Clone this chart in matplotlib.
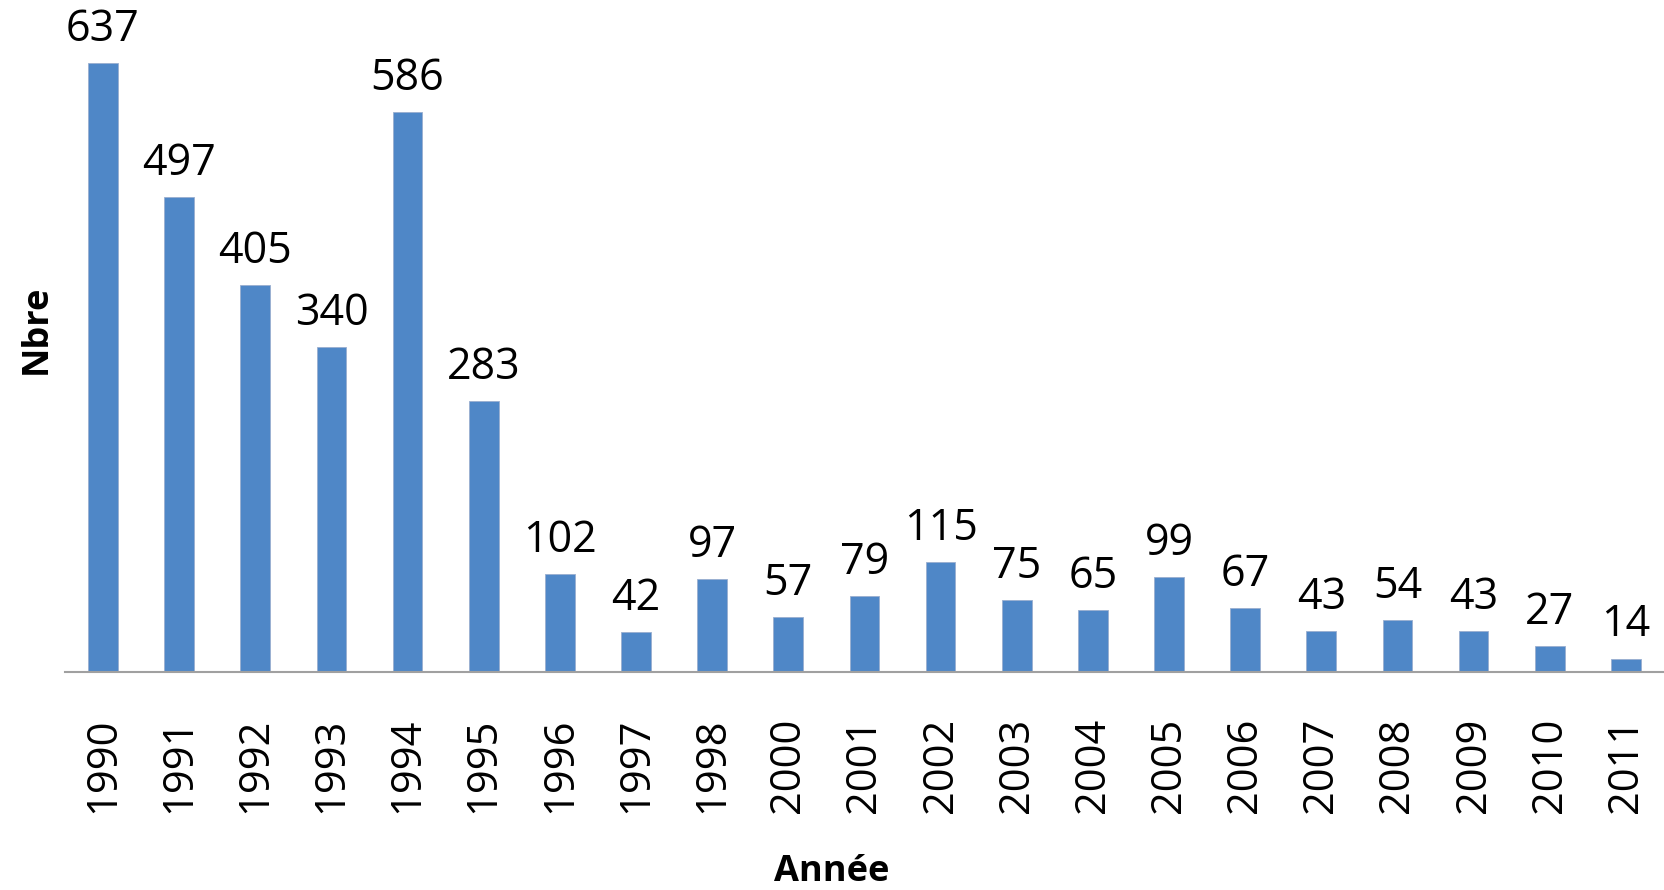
import matplotlib
matplotlib.use('Agg')
import matplotlib.pyplot as plt

plt.rcParams['font.family'] = ['Open Sans', 'DejaVu Sans']

annees = ['1990', '1991', '1992', '1993', '1994', '1995', '1996', '1997', '1998',
          '2000', '2001', '2002', '2003', '2004', '2005', '2006', '2007', '2008',
          '2009', '2010', '2011']
nbre = [637, 497, 405, 340, 586, 283, 102, 42, 97,
        57, 79, 115, 75, 65, 99, 67, 43, 54,
        43, 27, 14]

fig = plt.figure(figsize=(16.64, 8.90), dpi=100)
ax = fig.add_axes([0.039, 0.245, 0.961, 0.755])

x = range(len(annees))
bars = ax.bar(x, nbre, width=0.39, color='#4F87C7', edgecolor='#9aaed0', linewidth=0.6)
ax.bar_label(bars, labels=[str(v) for v in nbre], padding=8, fontsize=31)

ax.set_xlim(-0.5, len(annees) - 0.5)
ax.set_ylim(0, 703)
ax.set_xticks(list(x))
ax.set_xticklabels(annees, rotation=90, fontsize=30)
ax.tick_params(axis='x', length=0, pad=33)
ax.set_yticks([])

for s in ['top', 'right', 'left']:
    ax.spines[s].set_visible(False)
ax.spines['bottom'].set_color('#a0a0a0')
ax.spines['bottom'].set_linewidth(1.5)

fig.text(0.5, 0.02, 'Année', ha='center', va='center', fontsize=26, fontweight='bold')
fig.text(0.022, 0.63, 'Nbre', ha='center', va='center', rotation=90, fontsize=26, fontweight='bold')

plt.savefig('out.png', dpi=100)
